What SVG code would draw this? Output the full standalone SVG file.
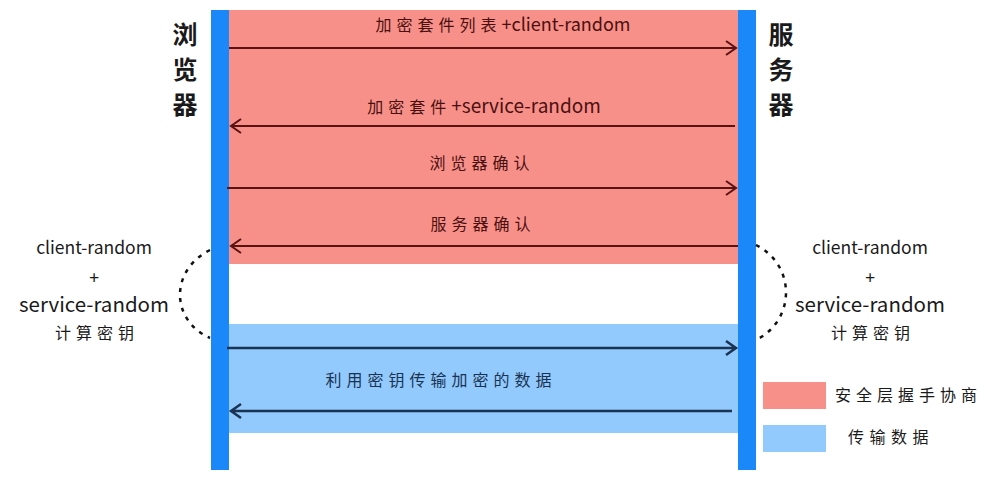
<svg xmlns="http://www.w3.org/2000/svg" width="999" height="487" viewBox="0 0 999 487">
<style>
text{font-family:"Noto Sans CJK SC","Noto Sans",sans-serif;fill:#1a1a1a}
.t{font-size:16px;text-anchor:middle;fill:#4a1010}
.tb{font-size:16px;text-anchor:middle;fill:#1a3352;letter-spacing:5px}
.cj{letter-spacing:5px}
.la{font-size:18px}
.lb{font-size:19px}
.side{font-size:17.5px;text-anchor:middle}
.sidec{font-size:16px;text-anchor:middle;letter-spacing:5px}
.big{font-size:20.5px;text-anchor:middle}
.ent{font-size:25px;font-weight:bold;text-anchor:middle}
.ar{stroke:#5a1212;stroke-width:2;fill:none}
.ab{stroke:#1a3352;stroke-width:2.5;fill:none}
.dash{stroke:#111;stroke-width:2.5;fill:none;stroke-dasharray:4 6}
</style>
<rect width="999" height="487" fill="#fff"/>
<g id="zones">
<rect x="229" y="10" width="509" height="254" fill="#f8908a"/>
<rect x="229" y="324" width="509" height="109" fill="#92cafd"/>
</g>
<g id="browser">
<rect x="211" y="10" width="18" height="460" fill="#1a88f8"/>
<text class="ent" x="185" y="44">浏</text>
<text class="ent" x="185" y="79">览</text>
<text class="ent" x="185" y="114">器</text>
</g>
<g id="server">
<rect x="738" y="10" width="18" height="460" fill="#1a88f8"/>
<text class="ent" x="781" y="44">服</text>
<text class="ent" x="781" y="79">务</text>
<text class="ent" x="781" y="114">器</text>
</g>
<g id="connectors">
<path class="ar" d="M229 48H736M726 41L736 48L726 55"/>
<path class="ar" d="M735 126H231M241 119L231 126L241 133"/>
<path class="ar" d="M227 188H736M726 181L736 188L726 195"/>
<path class="ar" d="M738 246H231M241 239L231 246L241 253"/>
<path class="ab" d="M227 348H736M726 341L736 348L726 355"/>
<path class="ab" d="M732 411H231M241 404L231 411L241 418"/>
<path class="dash" d="M210 250C170 270 170 320 210 338"/>
<path class="dash" d="M756 245C796 265 796 320 756 340"/>
</g>
<g id="labels">
<text class="t" x="503" y="31"><tspan class="cj">加密套件列表</tspan><tspan class="la">+client-random</tspan></text>
<text class="t" x="484" y="113"><tspan class="cj">加密套件</tspan><tspan class="lb">+service-random</tspan></text>
<text class="t cj" x="482" y="169">浏览器确认</text>
<text class="t cj" x="483" y="230">服务器确认</text>
<text class="tb" x="441" y="386">利用密钥传输加密的数据</text>
</g>
<g id="left-key">
<text class="side" x="94" y="254">client-random</text>
<text class="side" x="94" y="284">+</text>
<text class="big" x="94" y="312">service-random</text>
<text class="sidec" x="97" y="339">计算密钥</text>
</g>
<g id="right-key">
<text class="side" x="870" y="254">client-random</text>
<text class="side" x="870" y="284">+</text>
<text class="big" x="870" y="312">service-random</text>
<text class="sidec" x="873" y="339">计算密钥</text>
</g>
<g id="legend">
<rect x="763" y="382" width="63" height="27" fill="#f8908a"/>
<text x="835" y="401" style="font-size:16px;letter-spacing:5px">安全层握手协商</text>
<rect x="763" y="425" width="63" height="27" fill="#92cafd"/>
<text x="848" y="443" style="font-size:16px;letter-spacing:5.5px">传输数据</text>
</g>
</svg>
